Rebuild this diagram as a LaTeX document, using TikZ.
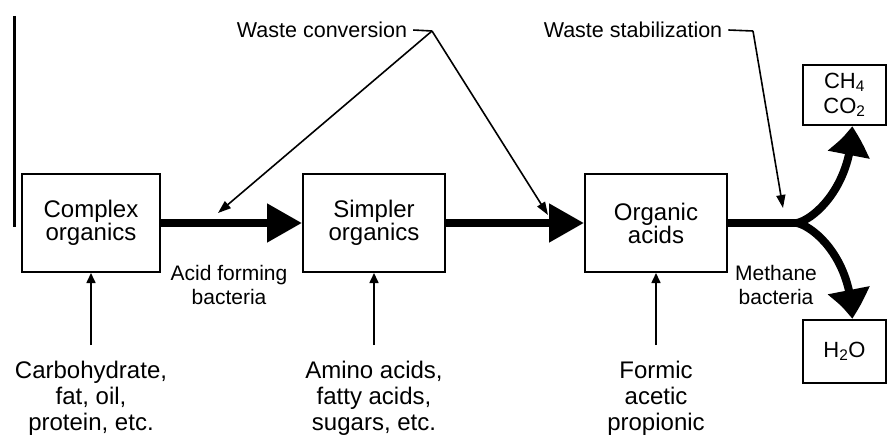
\documentclass[tikz,border=0pt]{standalone}
\usepackage{fontspec}
\setmainfont{Liberation Sans}
\usetikzlibrary{arrows.meta,bending}
\begin{document}
\begin{tikzpicture}[x=1pt,y=-1pt,
  box/.style={draw,line width=2pt,inner sep=0pt,align=center,
    font=\fontsize{24}{23}\selectfont},
  gasbox/.style={draw,line width=2pt,inner sep=0pt,align=center,
    minimum width=83pt,font=\fontsize{22}{25}\selectfont},
  toplabel/.style={inner ysep=0pt,inner xsep=6pt,font=\fontsize{21.5}{24}\selectfont},
  sidelabel/.style={anchor=north,inner sep=0pt,align=center,font=\fontsize{21}{24}\selectfont},
  srclabel/.style={anchor=north,inner xsep=0pt,inner ysep=0pt,outer ysep=16pt,align=center,
    font=\fontsize{24}{26}\selectfont},
  thickarrow/.style={line width=8pt,-{Triangle[length=35pt,width=37pt]}},
  curvearrow/.style={line width=8pt,-{Triangle[length=30pt,width=40pt,bend]}},
  thinline/.style={line width=1.6pt},
  thinarrow/.style={line width=1.6pt,-{Triangle[length=13pt,width=9pt]}},
  srcarrow/.style={line width=1.6pt,-{Triangle[length=10pt,width=9pt]}}
]
\useasboundingbox (0,0) rectangle (888,436);

% stray vertical rule at left
\coordinate (vtop) at (14,16);
\coordinate (vbot) at (14,227);
\draw[line width=3pt] (vtop) -- (vbot);

% main boxes
\node[box,minimum width=138pt,minimum height=98pt] (cplx) at (91,223) {Complex\\organics};
\node[box,minimum width=142pt,minimum height=98pt] (simp) at (374,223) {Simpler\\organics};
\node[box,minimum width=142pt,minimum height=98pt] (orga) at (656,223) {Organic\\acids};
\node[gasbox,minimum height=60pt] (gas) at (844.5,95) {CH\textsubscript{4}\\CO\textsubscript{2}};
\node[gasbox,minimum height=63pt] (water) at (844.5,351.5) {H\textsubscript{2}O};

% thick flow arrows
\draw[thickarrow] (cplx.east) -- (simp.west);
\draw[thickarrow] (simp.east) -- (orga.west);
\coordinate (split) at (797,223);
\draw[line width=8pt] (orga.east) -- (split);
\draw[curvearrow] (split) .. controls (815,219) and (852,185) .. ([xshift=7.5pt]gas.south);
\draw[curvearrow] (split) .. controls (815,227) and (852,260) .. ([xshift=7.5pt]water.north);

% side labels
\node[sidelabel] (acid) at (229,265.5) {Acid forming\\bacteria};
\node[sidelabel] (meth) at (776,265.5) {Methane\\bacteria};

% source labels
\node[srclabel] (lab1) at (91,345) {Carbohydrate,\\fat, oil,\\protein, etc.};
\node[srclabel] (lab2) at (374,345) {Amino acids,\\fatty acids,\\sugars, etc.};
\node[srclabel] (lab3) at (656,345) {Formic\\acetic\\propionic};
\draw[srcarrow] (lab1.north) -- (lab1.north |- cplx.south);
\draw[srcarrow] (lab2.north) -- (lab2.north |- simp.south);
\draw[srcarrow] (lab3.north) -- (lab3.north |- orga.south);

% waste conversion
\node[toplabel] (wconv) at (322,30) {Waste conversion};
\coordinate (wcapex) at (432,31);
\coordinate (wcL) at (218,213);
\coordinate (wcR) at (548,215);
\draw[thinline] (wconv.east) -- (wcapex);
\draw[thinarrow] (wcapex) -- (wcL);
\draw[thinarrow] (wcapex) -- (wcR);

% waste stabilization
\node[toplabel] (wstab) at (633,30) {Waste stabilization};
\coordinate (wsbend) at (753,31);
\coordinate (wsend) at (783,208);
\draw[thinline] (wstab.east) -- (wsbend);
\draw[thinarrow] (wsbend) -- (wsend);
\end{tikzpicture}
\end{document}
